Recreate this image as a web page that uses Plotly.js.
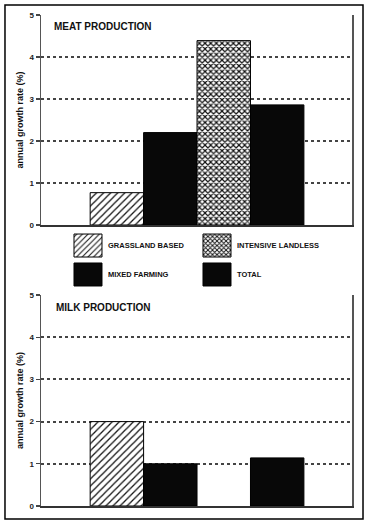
<!DOCTYPE html>
<html>
<head>
<meta charset="utf-8">
<script src="https://cdn.plot.ly/plotly-3.0.1.min.js"></script>
<style>
html,body{margin:0;padding:0;background:#fff;}
#chart{width:372px;height:524px;}
</style>
</head>
<body>
<div id="chart"></div>
<script>
// ---- data ----
var categories = ['GRASSLAND BASED', 'MIXED FARMING', 'INTENSIVE LANDLESS', 'TOTAL'];
var meatValues = [0.77, 2.2, 4.39, 2.86];
var milkValues = [2.0, 1.0, null, 1.14];
var panelTitles = ['MEAT PRODUCTION', 'MILK PRODUCTION'];
var yTicks = [0, 1, 2, 3, 4, 5];
var yTitle = 'annual growth rate (%)';

// ---- styles ----
var FONT = 'Liberation Sans, Arial, Helvetica, sans-serif';
var styles = [
  {color: '#fff', pattern: {shape: '/', fgcolor: '#111', bgcolor: '#fff', size: 5, solidity: 0.25}, legend: 'legend', rank: 1},
  {color: '#080808', pattern: null, legend: 'legend2', rank: 3},
  {color: '#fff', pattern: {shape: 'x', fgcolor: '#111', bgcolor: '#fff', size: 4, solidity: 0.5}, legend: 'legend', rank: 2},
  {color: '#080808', pattern: null, legend: 'legend2', rank: 4}
];

var traces = [];
function addPanel(values, xa, ya, showLegend) {
  categories.forEach(function (c, i) {
    var m = {color: styles[i].color, line: {color: '#000', width: 1}};
    if (styles[i].pattern) m.pattern = styles[i].pattern;
    traces.push({
      type: 'bar', x: [c], y: [values[i]], name: c,
      xaxis: xa, yaxis: ya, width: 1, marker: m,
      showlegend: showLegend, legend: styles[i].legend, legendrank: styles[i].rank,
      hoverinfo: 'skip'
    });
  });
}
addPanel(meatValues, 'x', 'y', true);
addPanel(milkValues, 'x2', 'y2', false);

function yax(domain) {
  return {
    domain: domain, range: [0, 5], tickvals: yTicks, ticks: 'outside', ticklen: 4,
    tickcolor: '#444', tickwidth: 1.2,
    tickfont: {family: FONT, size: 8, color: '#222', weight: 'bold'},
    showline: true, linecolor: '#555', linewidth: 1.5, mirror: true,
    showgrid: true, gridcolor: '#444', gridwidth: 2, griddash: 'dot',
    zeroline: false, fixedrange: true,
    title: {text: yTitle, font: {family: FONT, size: 9, color: '#111', weight: 'bold'}, standoff: 4}
  };
}
function xax(anchor) {
  return {
    anchor: anchor, type: 'category', categoryarray: categories, range: [-1.42, 4.4],
    showticklabels: false, ticks: '', showgrid: false, zeroline: false,
    showline: true, linecolor: '#333', linewidth: 1.5, fixedrange: true
  };
}

var legendFont = {family: FONT, size: 7.5, color: '#111', weight: 'bold'};
var layout = {
  width: 372, height: 524,
  margin: {l: 41, r: 20, t: 15, b: 18},
  paper_bgcolor: '#fff', plot_bgcolor: '#fff',
  barmode: 'overlay',
  font: {family: FONT},
  xaxis: xax('y'), yaxis: yax([0.5723, 1]),
  xaxis2: xax('y2'), yaxis2: yax([0, 0.4297]),
  legend: {orientation: 'h', x: 0.0868, xanchor: 'left', y: 0.5305, yanchor: 'middle',
    entrywidth: 84, font: legendFont, bgcolor: 'rgba(0,0,0,0)'},
  legend2: {orientation: 'h', x: 0.0868, xanchor: 'left', y: 0.4715, yanchor: 'middle',
    entrywidth: 84, font: legendFont, bgcolor: 'rgba(0,0,0,0)'},
  annotations: [
    {text: panelTitles[0], xref: 'x domain', yref: 'y domain', x: 0.035, y: 0.943, xanchor: 'left', yanchor: 'middle',
     showarrow: false, font: {family: FONT, size: 10, color: '#111', weight: 'bold'}},
    {text: panelTitles[1], xref: 'x2 domain', yref: 'y2 domain', x: 0.042, y: 0.943, xanchor: 'left', yanchor: 'middle',
     showarrow: false, font: {family: FONT, size: 10, color: '#111', weight: 'bold'}}
  ],
  shapes: [
    {type: 'rect', xref: 'paper', yref: 'paper', x0: -0.1158, x1: 1.0354, y0: -0.0265, y1: 1.0204,
     line: {color: '#000', width: 1.5}, fillcolor: 'rgba(0,0,0,0)', layer: 'below'}
  ]
};

Plotly.newPlot('chart', traces, layout, {staticPlot: true, displayModeBar: false}).then(function (gd) {
  // enlarge legend swatches to match the reference's large key boxes
  var paths = gd.querySelectorAll('.infolayer .legendpoints path');
  paths.forEach(function (p) { p.setAttribute('d', 'M14,11.5H-14V-11.5H14Z'); });
});
</script>
</body>
</html>
